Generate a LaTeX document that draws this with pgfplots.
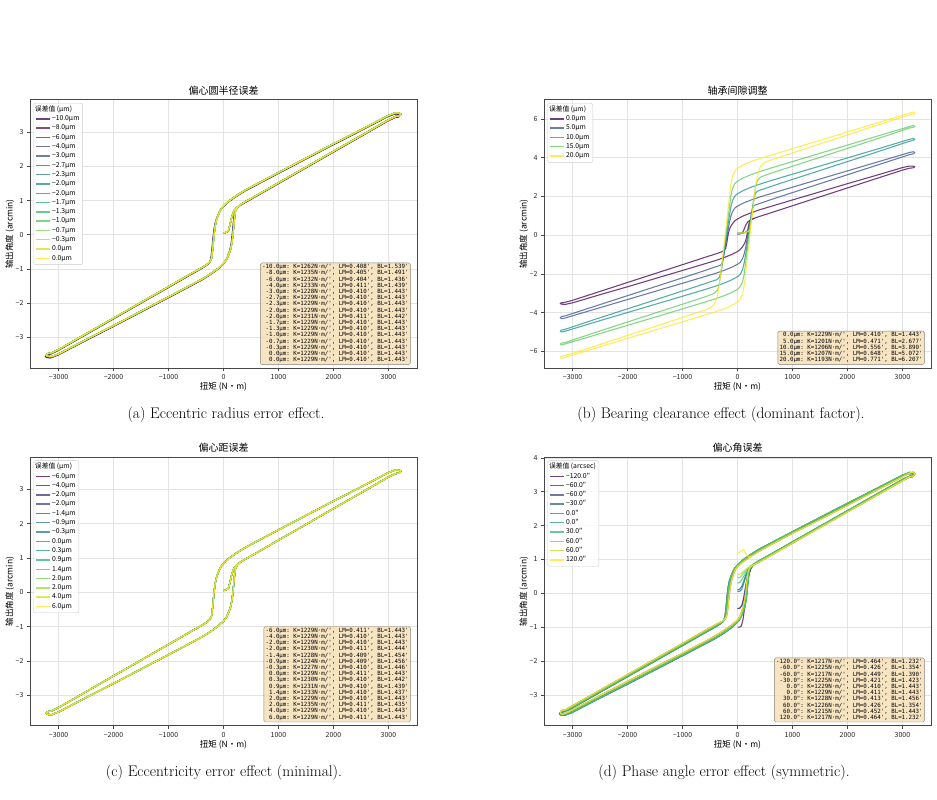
\documentclass[border=0pt]{standalone}
\usepackage{fontspec}
\setmonofont{DejaVu Sans Mono}
\newfontfamily\cjk{Noto Sans CJK SC}
\usepackage{pgfplots}
\usepackage{pgfplotstable}
\pgfplotsset{compat=1.18}

% viridis samples
\definecolor{va0}{RGB}{68,1,84}\definecolor{va1}{RGB}{71,24,106}\definecolor{va2}{RGB}{70,47,123}\definecolor{va3}{RGB}{65,68,135}
\definecolor{va4}{RGB}{57,86,139}\definecolor{va5}{RGB}{49,103,141}\definecolor{va6}{RGB}{42,120,142}\definecolor{va7}{RGB}{36,137,141}
\definecolor{va8}{RGB}{33,153,137}\definecolor{va9}{RGB}{34,168,132}\definecolor{va10}{RGB}{57,183,119}\definecolor{va11}{RGB}{86,197,102}
\definecolor{va12}{RGB}{122,209,81}\definecolor{va13}{RGB}{167,218,52}\definecolor{va14}{RGB}{210,226,38}\definecolor{va15}{RGB}{253,231,37}
\definecolor{vb0}{RGB}{68,1,84}\definecolor{vb1}{RGB}{59,82,138}\definecolor{vb2}{RGB}{33,145,140}\definecolor{vb3}{RGB}{95,200,97}\definecolor{vb4}{RGB}{253,231,37}
\definecolor{vc0}{RGB}{68,1,84}\definecolor{vc1}{RGB}{71,26,108}\definecolor{vc2}{RGB}{69,50,125}\definecolor{vc3}{RGB}{63,72,136}
\definecolor{vc4}{RGB}{55,91,140}\definecolor{vc5}{RGB}{47,109,142}\definecolor{vc6}{RGB}{39,127,141}\definecolor{vc7}{RGB}{33,145,140}
\definecolor{vc8}{RGB}{34,161,134}\definecolor{vc9}{RGB}{49,178,123}\definecolor{vc10}{RGB}{76,194,108}\definecolor{vc11}{RGB}{114,206,85}
\definecolor{vc12}{RGB}{160,217,56}\definecolor{vc13}{RGB}{207,225,38}\definecolor{vc14}{RGB}{253,231,37}
\definecolor{vd0}{RGB}{68,1,84}\definecolor{vd1}{RGB}{71,40,119}\definecolor{vd2}{RGB}{62,74,136}\definecolor{vd3}{RGB}{49,103,141}
\definecolor{vd4}{RGB}{38,131,141}\definecolor{vd5}{RGB}{34,158,136}\definecolor{vd6}{RGB}{57,183,119}\definecolor{vd7}{RGB}{110,205,88}
\definecolor{vd8}{RGB}{182,221,43}\definecolor{vd9}{RGB}{253,231,37}
\definecolor{wheatc}{RGB}{245,222,179}

\newcommand{\pr}{\textquotesingle}

% ---------- hysteresis loops (torque, output angle) ----------
\pgfplotstableread[row sep=\\]{
x y\\
-3200 -3.56\\ -3130 -3.57\\ -3000 -3.49\\ -2500 -3.07\\ -2000 -2.66\\ -1500 -2.24\\ -1000 -1.82\\ -600 -1.48\\
-400 -1.31\\ -250 -1.16\\ -100 -0.99\\ 0 -0.84\\ 50 -0.74\\ 90 -0.60\\ 130 -0.42\\ 155 -0.22\\ 175 0.05\\
195 0.40\\ 215 0.68\\ 250 0.80\\ 300 0.87\\ 400 0.97\\ 600 1.15\\ 1000 1.52\\ 1500 1.98\\ 2000 2.44\\
2500 2.90\\ 3000 3.36\\ 3130 3.46\\ 3200 3.48\\ 3225 3.53\\
3200 3.56\\ 3130 3.57\\ 3000 3.49\\ 2500 3.07\\ 2000 2.66\\ 1500 2.24\\ 1000 1.82\\ 600 1.48\\
400 1.31\\ 250 1.16\\ 100 0.99\\ 0 0.84\\ -50 0.74\\ -90 0.60\\ -130 0.42\\ -155 0.22\\ -175 -0.05\\
-195 -0.40\\ -215 -0.68\\ -250 -0.80\\ -300 -0.87\\ -400 -0.97\\ -600 -1.15\\ -1000 -1.52\\ -1500 -1.98\\
-2000 -2.44\\ -2500 -2.90\\ -3000 -3.36\\ -3130 -3.46\\ -3200 -3.48\\ -3225 -3.53\\ -3200 -3.56\\
}\Lzero

\pgfplotstableread[row sep=\\]{
x y\\
-3215 -3.595\\ -3145 -3.605\\ -3015 -3.525\\ -2515 -3.105\\ -2015 -2.695\\ -1515 -2.275\\ -1015 -1.855\\ -615 -1.515\\
-415 -1.345\\ -265 -1.195\\ -115 -1.025\\ -15 -0.875\\ 35 -0.775\\ 75 -0.635\\ 115 -0.455\\ 140 -0.255\\ 160 0.015\\
180 0.365\\ 200 0.645\\ 235 0.765\\ 285 0.835\\ 385 0.935\\ 585 1.115\\ 985 1.485\\ 1485 1.945\\ 1985 2.405\\
2485 2.865\\ 2985 3.325\\ 3115 3.425\\ 3185 3.445\\ 3210 3.495\\
3185 3.525\\ 3115 3.535\\ 2985 3.455\\ 2485 3.035\\ 1985 2.625\\ 1485 2.205\\ 985 1.785\\ 585 1.445\\
385 1.275\\ 235 1.125\\ 85 0.955\\ -15 0.805\\ -65 0.705\\ -105 0.565\\ -145 0.385\\ -170 0.185\\ -190 -0.085\\
-210 -0.435\\ -230 -0.715\\ -265 -0.835\\ -315 -0.905\\ -415 -1.005\\ -615 -1.185\\ -1015 -1.555\\ -1515 -2.015\\
-2015 -2.475\\ -2515 -2.935\\ -3015 -3.395\\ -3145 -3.495\\ -3215 -3.515\\ -3240 -3.565\\ -3215 -3.595\\
}\Lshift

\pgfplotstableread[row sep=\\]{
x y\\
-3200 -3.58\\ -3130 -3.55\\ -3000 -3.44\\ -2500 -3.02\\ -2000 -2.60\\ -1500 -2.18\\ -1000 -1.77\\ -600 -1.43\\
-400 -1.25\\ -250 -1.10\\ -100 -0.93\\ 0 -0.79\\ 40 -0.70\\ 70 -0.58\\ 105 -0.40\\ 130 -0.20\\ 150 0.03\\
170 0.35\\ 190 0.62\\ 220 0.75\\ 270 0.82\\ 370 0.90\\ 600 1.11\\ 1000 1.48\\ 1500 1.94\\ 2000 2.40\\
2500 2.86\\ 3000 3.32\\ 3130 3.44\\ 3200 3.46\\ 3225 3.52\\
3200 3.58\\ 3130 3.55\\ 3000 3.44\\ 2500 3.02\\ 2000 2.60\\ 1500 2.18\\ 1000 1.77\\ 600 1.43\\
400 1.25\\ 250 1.10\\ 100 0.93\\ 0 0.79\\ -40 0.70\\ -70 0.58\\ -105 0.40\\ -130 0.20\\ -150 -0.03\\
-170 -0.35\\ -190 -0.62\\ -220 -0.75\\ -270 -0.82\\ -370 -0.90\\ -600 -1.11\\ -1000 -1.48\\ -1500 -1.94\\
-2000 -2.40\\ -2500 -2.86\\ -3000 -3.32\\ -3130 -3.44\\ -3200 -3.46\\ -3225 -3.52\\ -3200 -3.58\\
}\Lnarrow

\pgfplotstableread[row sep=\\]{
x y\\
-3200 -4.31\\ -3130 -4.27\\ -3000 -4.16\\ -2500 -3.74\\ -2000 -3.32\\ -1500 -2.90\\ -1000 -2.48\\ -600 -2.14\\
-400 -1.97\\ -250 -1.82\\ -100 -1.65\\ 0 -1.50\\ 50 -1.40\\ 90 -1.22\\ 120 -0.98\\ 150 -0.62\\ 187 0.00\\
220 0.58\\ 250 1.07\\ 275 1.40\\ 300 1.53\\ 350 1.59\\ 450 1.68\\ 600 1.83\\ 1000 2.20\\ 1500 2.66\\
2000 3.12\\ 2500 3.58\\ 3000 4.04\\ 3130 4.16\\ 3200 4.20\\ 3225 4.26\\
3200 4.31\\ 3130 4.27\\ 3000 4.16\\ 2500 3.74\\ 2000 3.32\\ 1500 2.90\\ 1000 2.48\\ 600 2.14\\
400 1.97\\ 250 1.82\\ 100 1.65\\ 0 1.50\\ -50 1.40\\ -90 1.22\\ -120 0.98\\ -150 0.62\\ -187 0.00\\
-220 -0.58\\ -250 -1.07\\ -275 -1.40\\ -300 -1.53\\ -350 -1.59\\ -450 -1.68\\ -600 -1.83\\ -1000 -2.20\\
-1500 -2.66\\ -2000 -3.12\\ -2500 -3.58\\ -3000 -4.04\\ -3130 -4.16\\ -3200 -4.20\\ -3225 -4.26\\ -3200 -4.31\\
}\Lfive

\pgfplotstableread[row sep=\\]{
x y\\
-3200 -5.00\\ -3130 -4.95\\ -3000 -4.84\\ -2500 -4.41\\ -2000 -3.99\\ -1500 -3.57\\ -1000 -3.15\\ -600 -2.81\\
-400 -2.63\\ -250 -2.48\\ -100 -2.30\\ 0 -2.14\\ 50 -2.02\\ 90 -1.80\\ 120 -1.45\\ 160 -0.80\\ 200 0.00\\
240 0.80\\ 270 1.38\\ 300 1.90\\ 330 2.18\\ 380 2.30\\ 480 2.39\\ 600 2.51\\ 1000 2.88\\ 1500 3.34\\
2000 3.80\\ 2500 4.26\\ 3000 4.73\\ 3130 4.85\\ 3200 4.90\\ 3225 4.95\\
3200 5.00\\ 3130 4.95\\ 3000 4.84\\ 2500 4.41\\ 2000 3.99\\ 1500 3.57\\ 1000 3.15\\ 600 2.81\\
400 2.63\\ 250 2.48\\ 100 2.30\\ 0 2.14\\ -50 2.02\\ -90 1.80\\ -120 1.45\\ -160 0.80\\ -200 0.00\\
-240 -0.80\\ -270 -1.38\\ -300 -1.90\\ -330 -2.18\\ -380 -2.30\\ -480 -2.39\\ -600 -2.51\\ -1000 -2.88\\
-1500 -3.34\\ -2000 -3.80\\ -2500 -4.26\\ -3000 -4.73\\ -3130 -4.85\\ -3200 -4.90\\ -3225 -4.95\\ -3200 -5.00\\
}\Lten

\pgfplotstableread[row sep=\\]{
x y\\
-3200 -5.67\\ -3130 -5.61\\ -3000 -5.50\\ -2500 -5.08\\ -2000 -4.65\\ -1500 -4.23\\ -1000 -3.80\\ -600 -3.46\\
-400 -3.28\\ -250 -3.13\\ -100 -2.95\\ 0 -2.79\\ 50 -2.66\\ 90 -2.42\\ 120 -2.05\\ 165 -1.06\\ 212 0.00\\
260 1.08\\ 300 1.95\\ 330 2.50\\ 360 2.82\\ 420 3.00\\ 500 3.09\\ 600 3.19\\ 1000 3.56\\ 1500 4.02\\
2000 4.48\\ 2500 4.94\\ 3000 5.41\\ 3130 5.53\\ 3200 5.57\\ 3225 5.62\\
3200 5.67\\ 3130 5.61\\ 3000 5.50\\ 2500 5.08\\ 2000 4.65\\ 1500 4.23\\ 1000 3.80\\ 600 3.46\\
400 3.28\\ 250 3.13\\ 100 2.95\\ 0 2.79\\ -50 2.66\\ -90 2.42\\ -120 2.05\\ -165 1.06\\ -212 0.00\\
-260 -1.08\\ -300 -1.95\\ -330 -2.50\\ -360 -2.82\\ -420 -3.00\\ -500 -3.09\\ -600 -3.19\\ -1000 -3.56\\
-1500 -4.02\\ -2000 -4.48\\ -2500 -4.94\\ -3000 -5.41\\ -3130 -5.53\\ -3200 -5.57\\ -3225 -5.62\\ -3200 -5.67\\
}\Lfifteen

\pgfplotstableread[row sep=\\]{
x y\\
-3200 -6.36\\ -3130 -6.30\\ -3000 -6.19\\ -2500 -5.76\\ -2000 -5.33\\ -1500 -4.90\\ -1000 -4.47\\ -600 -4.12\\
-400 -3.95\\ -250 -3.81\\ -100 -3.62\\ 0 -3.45\\ 50 -3.30\\ 90 -3.05\\ 125 -2.55\\ 170 -1.40\\ 224 -0.05\\
280 1.35\\ 330 2.55\\ 370 3.20\\ 420 3.55\\ 500 3.77\\ 600 3.87\\ 1000 4.24\\ 1500 4.71\\ 2000 5.17\\
2500 5.64\\ 3000 6.10\\ 3130 6.20\\ 3200 6.25\\ 3225 6.31\\
3200 6.36\\ 3130 6.30\\ 3000 6.19\\ 2500 5.76\\ 2000 5.33\\ 1500 4.90\\ 1000 4.47\\ 600 4.12\\
400 3.95\\ 250 3.81\\ 100 3.62\\ 0 3.45\\ -50 3.30\\ -90 3.05\\ -125 2.55\\ -170 1.40\\ -224 0.05\\
-280 -1.35\\ -330 -2.55\\ -370 -3.20\\ -420 -3.55\\ -500 -3.77\\ -600 -3.87\\ -1000 -4.24\\ -1500 -4.71\\
-2000 -5.17\\ -2500 -5.64\\ -3000 -6.10\\ -3130 -6.20\\ -3200 -6.25\\ -3225 -6.31\\ -3200 -6.36\\
}\Ltwenty

% ---------- initial loading segments ----------
\pgfplotstableread[row sep=\\]{x y\\ 0 0.05\\ 50 0.07\\ 90 0.12\\ 120 0.30\\ 150 0.52\\ 190 0.70\\ 240 0.79\\ 300 0.87\\}\Izero
\pgfplotstableread[row sep=\\]{x y\\ 0 0.10\\ 80 0.11\\ 140 0.14\\ 190 0.25\\ 220 0.58\\}\Ifive
\pgfplotstableread[row sep=\\]{x y\\ 0 0.10\\ 80 0.11\\ 150 0.14\\ 205 0.25\\ 240 0.80\\}\Iten
\pgfplotstableread[row sep=\\]{x y\\ 0 0.10\\ 80 0.11\\ 150 0.14\\ 215 0.25\\ 260 1.08\\}\Ififteen
\pgfplotstableread[row sep=\\]{x y\\ 0 0.10\\ 80 0.11\\ 160 0.14\\ 225 0.25\\ 280 1.35\\}\Itwenty
\pgfplotstableread[row sep=\\]{x y\\ 0 -1.00\\ 40 -1.00\\ 70 -0.96\\ 100 -0.78\\ 130 -0.42\\ 160 0.02\\ 195 0.45\\ 240 0.72\\ 300 0.87\\}\IdA
\pgfplotstableread[row sep=\\]{x y\\ 0 -0.45\\ 40 -0.44\\ 80 -0.36\\ 115 -0.12\\ 150 0.22\\ 190 0.52\\ 240 0.74\\ 300 0.87\\}\IdB
\pgfplotstableread[row sep=\\]{x y\\ 0 0.05\\ 40 0.06\\ 80 0.12\\ 115 0.30\\ 150 0.50\\ 195 0.68\\ 245 0.79\\ 300 0.87\\}\IdC
\pgfplotstableread[row sep=\\]{x y\\ 0 0.10\\ 40 0.12\\ 85 0.22\\ 120 0.38\\ 160 0.56\\ 205 0.71\\ 250 0.80\\ 300 0.87\\}\IdD
\pgfplotstableread[row sep=\\]{x y\\ 0 0.30\\ 40 0.32\\ 90 0.43\\ 140 0.58\\ 190 0.70\\ 245 0.80\\ 300 0.87\\}\IdE
\pgfplotstableread[row sep=\\]{x y\\ 0 0.45\\ 50 0.48\\ 100 0.57\\ 150 0.67\\ 210 0.77\\ 260 0.83\\ 300 0.87\\}\IdF
\pgfplotstableread[row sep=\\]{x y\\ 0 0.55\\ 50 0.57\\ 100 0.63\\ 160 0.72\\ 220 0.78\\ 270 0.82\\}\IdG
\pgfplotstableread[row sep=\\]{x y\\ 0 1.20\\ 40 1.22\\ 80 1.27\\ 115 1.30\\ 145 1.17\\ 180 1.10\\ 215 1.09\\ 250 1.10\\}\IdH

\pgfplotsset{
  panel/.style={
    scale only axis, width=387pt, height=268.5pt,
    xmin=-3520, xmax=3520,
    xtick={-3000,-2000,-1000,0,1000,2000,3000},
    xticklabels={−3000,−2000,−1000,0,1000,2000,3000},
    axis line style={black!72, line width=0.9pt},
    every tick/.style={black!72, line width=0.6pt},
    tick align=outside, major tick length=3pt, tick pos=left,
    grid=major, major grid style={black!11, line width=0.5pt},
    tick label style={font=\cjk\fontsize{7}{8}\selectfont, text=black!85},
    title style={font=\cjk\fontsize{10}{12}\selectfont, yshift=-5pt},
    xlabel style={font=\cjk\fontsize{8.5}{10}\selectfont, at={([yshift=-14pt]axis description cs:0.5,0)}, anchor=north, inner sep=0pt},
    ylabel style={font=\cjk\fontsize{8.5}{10}\selectfont, at={([xshift=-15.5pt]axis description cs:0,0.5)}, anchor=south, inner sep=0pt},
    xlabel={扭矩 (N·m)}, ylabel={输出角度 (arcmin)},
    legend style={at={([xshift=3.3pt,yshift=-3.3pt]axis description cs:0,1)}, anchor=north west,
      font=\cjk\fontsize{6.8}{7.5}\selectfont, draw=black!20, fill=white, fill opacity=0.8, text opacity=1,
      rounded corners=2pt, row sep=1.5pt, inner xsep=2.2pt, inner ysep=2.4pt,
      nodes={inner sep=0.9pt, text height=4.8pt, text depth=1.2pt}},
    legend cell align=left,
    legend image code/.code={\draw[##1, line width=1.4pt] (0pt,0pt) -- (14pt,0pt);},
  },
  ln/.style={line width=1.1pt, opacity=0.75, line join=round},
}
\tikzset{statbox/.style={anchor=south east, fill=wheatc, draw=black!60, opacity=0.8, text opacity=1,
  rounded corners=1.5pt, inner sep=1.6pt, align=right, font=\ttfamily\fontsize{5.8}{6.2}\selectfont}}

% one series: colour, loop table, initial segment, legend text
\newcommand{\series}[4]{%
  \addplot[ln, color=#1] table {#2};
  \addlegendentry{#4}
  \addplot[ln, color=#1, forget plot] table {#3};
}

\begin{document}
\begin{tikzpicture}
\path[use as bounding box] (0,0) rectangle (937pt,800pt);

% (a) eccentric radius error
\begin{axis}[panel, at={(30pt,431.7pt)}, anchor=south west,
  ymin=-3.91, ymax=3.95, ytick={-3,-2,-1,0,1,2,3}, yticklabels={−3,−2,−1,0,1,2,3},
  title={偏心圆半径误差}]
\addlegendimage{empty legend}\addlegendentry{\hspace*{-17pt}误差值 (μm)}
\series{va0}{\Lshift}{\Izero}{−10.0μm}
\series{va1}{\Lshift}{\Izero}{−8.0μm}
\series{va2}{\Lzero}{\Izero}{−6.0μm}
\series{va3}{\Lzero}{\Izero}{−4.0μm}
\series{va4}{\Lzero}{\Izero}{−3.0μm}
\series{va5}{\Lzero}{\Izero}{−2.7μm}
\series{va6}{\Lzero}{\Izero}{−2.3μm}
\series{va7}{\Lzero}{\Izero}{−2.0μm}
\series{va8}{\Lzero}{\Izero}{−2.0μm}
\series{va9}{\Lzero}{\Izero}{−1.7μm}
\series{va10}{\Lzero}{\Izero}{−1.3μm}
\series{va11}{\Lzero}{\Izero}{−1.0μm}
\series{va12}{\Lzero}{\Izero}{−0.7μm}
\series{va13}{\Lzero}{\Izero}{−0.3μm}
\series{va14}{\Lzero}{\Izero}{0.0μm}
\series{va15}{\Lzero}{\Izero}{0.0μm}
\node[statbox] at ([xshift=-6.5pt,yshift=3.5pt]axis description cs:1,0) {%
-10.0μm: K=1262N·m/\pr, LM=0.408\pr, BL=1.539\pr\\
-8.0μm: K=1235N·m/\pr, LM=0.405\pr, BL=1.491\pr\\
-6.0μm: K=1232N·m/\pr, LM=0.404\pr, BL=1.436\pr\\
-4.0μm: K=1233N·m/\pr, LM=0.411\pr, BL=1.439\pr\\
-3.0μm: K=1228N·m/\pr, LM=0.410\pr, BL=1.443\pr\\
-2.7μm: K=1229N·m/\pr, LM=0.410\pr, BL=1.443\pr\\
-2.3μm: K=1229N·m/\pr, LM=0.410\pr, BL=1.443\pr\\
-2.0μm: K=1229N·m/\pr, LM=0.410\pr, BL=1.443\pr\\
-2.0μm: K=1231N·m/\pr, LM=0.411\pr, BL=1.442\pr\\
-1.7μm: K=1229N·m/\pr, LM=0.410\pr, BL=1.443\pr\\
-1.3μm: K=1229N·m/\pr, LM=0.410\pr, BL=1.443\pr\\
-1.0μm: K=1229N·m/\pr, LM=0.410\pr, BL=1.443\pr\\
-0.7μm: K=1229N·m/\pr, LM=0.410\pr, BL=1.443\pr\\
-0.3μm: K=1229N·m/\pr, LM=0.410\pr, BL=1.443\pr\\
0.0μm: K=1229N·m/\pr, LM=0.410\pr, BL=1.443\pr\\
0.0μm: K=1229N·m/\pr, LM=0.410\pr, BL=1.443\pr};
\end{axis}

% (b) bearing clearance
\begin{axis}[panel, at={(544pt,431.7pt)}, anchor=south west,
  ymin=-6.87, ymax=6.99, ytick={-6,-4,-2,0,2,4,6}, yticklabels={−6,−4,−2,0,2,4,6},
  title={轴承间隙调整}]
\addlegendimage{empty legend}\addlegendentry{\hspace*{-17pt}误差值 (μm)}
\series{vb0}{\Lzero}{\Izero}{0.0μm}
\series{vb1}{\Lfive}{\Ifive}{5.0μm}
\series{vb2}{\Lten}{\Iten}{10.0μm}
\series{vb3}{\Lfifteen}{\Ififteen}{15.0μm}
\series{vb4}{\Ltwenty}{\Itwenty}{20.0μm}
\node[statbox] at ([xshift=-6.5pt,yshift=3.5pt]axis description cs:1,0) {%
0.0μm: K=1229N·m/\pr, LM=0.410\pr, BL=1.443\pr\\
5.0μm: K=1201N·m/\pr, LM=0.471\pr, BL=2.677\pr\\
10.0μm: K=1206N·m/\pr, LM=0.556\pr, BL=3.890\pr\\
15.0μm: K=1207N·m/\pr, LM=0.648\pr, BL=5.072\pr\\
20.0μm: K=1193N·m/\pr, LM=0.771\pr, BL=6.207\pr};
\end{axis}

% (c) eccentricity error
\begin{axis}[panel, at={(30pt,74.3pt)}, anchor=south west,
  ymin=-3.89, ymax=3.94, ytick={-3,-2,-1,0,1,2,3}, yticklabels={−3,−2,−1,0,1,2,3},
  title={偏心距误差}]
\addlegendimage{empty legend}\addlegendentry{\hspace*{-17pt}误差值 (μm)}
\series{vc0}{\Lzero}{\Izero}{−6.0μm}
\series{vc1}{\Lzero}{\Izero}{−4.0μm}
\series{vc2}{\Lzero}{\Izero}{−2.0μm}
\series{vc3}{\Lzero}{\Izero}{−2.0μm}
\series{vc4}{\Lzero}{\Izero}{−1.4μm}
\series{vc5}{\Lzero}{\Izero}{−0.9μm}
\series{vc6}{\Lzero}{\Izero}{−0.3μm}
\series{vc7}{\Lzero}{\Izero}{0.0μm}
\series{vc8}{\Lzero}{\Izero}{0.3μm}
\series{vc9}{\Lzero}{\Izero}{0.9μm}
\series{vc10}{\Lzero}{\Izero}{1.4μm}
\series{vc11}{\Lzero}{\Izero}{2.0μm}
\series{vc12}{\Lzero}{\Izero}{2.0μm}
\series{vc13}{\Lzero}{\Izero}{4.0μm}
\series{vc14}{\Lzero}{\Izero}{6.0μm}
\node[statbox] at ([xshift=-6.5pt,yshift=3.5pt]axis description cs:1,0) {%
-6.0μm: K=1229N·m/\pr, LM=0.411\pr, BL=1.443\pr\\
-4.0μm: K=1229N·m/\pr, LM=0.410\pr, BL=1.443\pr\\
-2.0μm: K=1229N·m/\pr, LM=0.410\pr, BL=1.443\pr\\
-2.0μm: K=1230N·m/\pr, LM=0.411\pr, BL=1.444\pr\\
-1.4μm: K=1228N·m/\pr, LM=0.409\pr, BL=1.454\pr\\
-0.9μm: K=1224N·m/\pr, LM=0.409\pr, BL=1.456\pr\\
-0.3μm: K=1227N·m/\pr, LM=0.410\pr, BL=1.446\pr\\
0.0μm: K=1229N·m/\pr, LM=0.411\pr, BL=1.443\pr\\
0.3μm: K=1230N·m/\pr, LM=0.410\pr, BL=1.442\pr\\
0.9μm: K=1231N·m/\pr, LM=0.410\pr, BL=1.439\pr\\
1.4μm: K=1233N·m/\pr, LM=0.410\pr, BL=1.437\pr\\
2.0μm: K=1229N·m/\pr, LM=0.410\pr, BL=1.443\pr\\
2.0μm: K=1235N·m/\pr, LM=0.411\pr, BL=1.435\pr\\
4.0μm: K=1229N·m/\pr, LM=0.410\pr, BL=1.443\pr\\
6.0μm: K=1229N·m/\pr, LM=0.411\pr, BL=1.443\pr};
\end{axis}

% (d) phase angle error
\begin{axis}[panel, at={(544pt,74.3pt)}, anchor=south west,
  ymin=-3.91, ymax=4.02, ytick={-3,-2,-1,0,1,2,3,4}, yticklabels={−3,−2,−1,0,1,2,3,4},
  title={偏心角误差}]
\addlegendimage{empty legend}\addlegendentry{\hspace*{-17pt}误差值 (arcsec)}
\series{vd0}{\Lnarrow}{\IdA}{−120.0"}
\series{vd1}{\Lshift}{\IdB}{−60.0"}
\series{vd2}{\Lzero}{\IdB}{−60.0"}
\series{vd3}{\Lshift}{\IdC}{−30.0"}
\series{vd4}{\Lzero}{\IdD}{0.0"}
\series{vd5}{\Lzero}{\IdD}{0.0"}
\series{vd6}{\Lshift}{\IdE}{30.0"}
\series{vd7}{\Lzero}{\IdF}{60.0"}
\series{vd8}{\Lnarrow}{\IdG}{60.0"}
\series{vd9}{\Lnarrow}{\IdH}{120.0"}
\node[statbox] at ([xshift=-6.5pt,yshift=3.5pt]axis description cs:1,0) {%
-120.0": K=1217N·m/\pr, LM=0.464\pr, BL=1.232\pr\\
-60.0": K=1225N·m/\pr, LM=0.426\pr, BL=1.354\pr\\
-60.0": K=1217N·m/\pr, LM=0.449\pr, BL=1.390\pr\\
-30.0": K=1225N·m/\pr, LM=0.421\pr, BL=1.423\pr\\
0.0": K=1229N·m/\pr, LM=0.410\pr, BL=1.443\pr\\
0.0": K=1229N·m/\pr, LM=0.411\pr, BL=1.443\pr\\
30.0": K=1228N·m/\pr, LM=0.413\pr, BL=1.456\pr\\
60.0": K=1226N·m/\pr, LM=0.426\pr, BL=1.354\pr\\
60.0": K=1215N·m/\pr, LM=0.452\pr, BL=1.443\pr\\
120.0": K=1217N·m/\pr, LM=0.464\pr, BL=1.232\pr};
\end{axis}

% sub-figure captions
\node[font=\fontsize{15.4}{18}\selectfont] at (226pt,385pt) {(a) Eccentric radius error effect.};
\node[font=\fontsize{15.4}{18}\selectfont] at (721pt,385pt) {(b) Bearing clearance effect (dominant factor).};
\node[font=\fontsize{15.4}{18}\selectfont] at (224pt,27pt) {(c) Eccentricity error effect (minimal).};
\node[font=\fontsize{15.4}{18}\selectfont] at (724pt,27pt) {(d) Phase angle error effect (symmetric).};
\end{tikzpicture}
\end{document}
